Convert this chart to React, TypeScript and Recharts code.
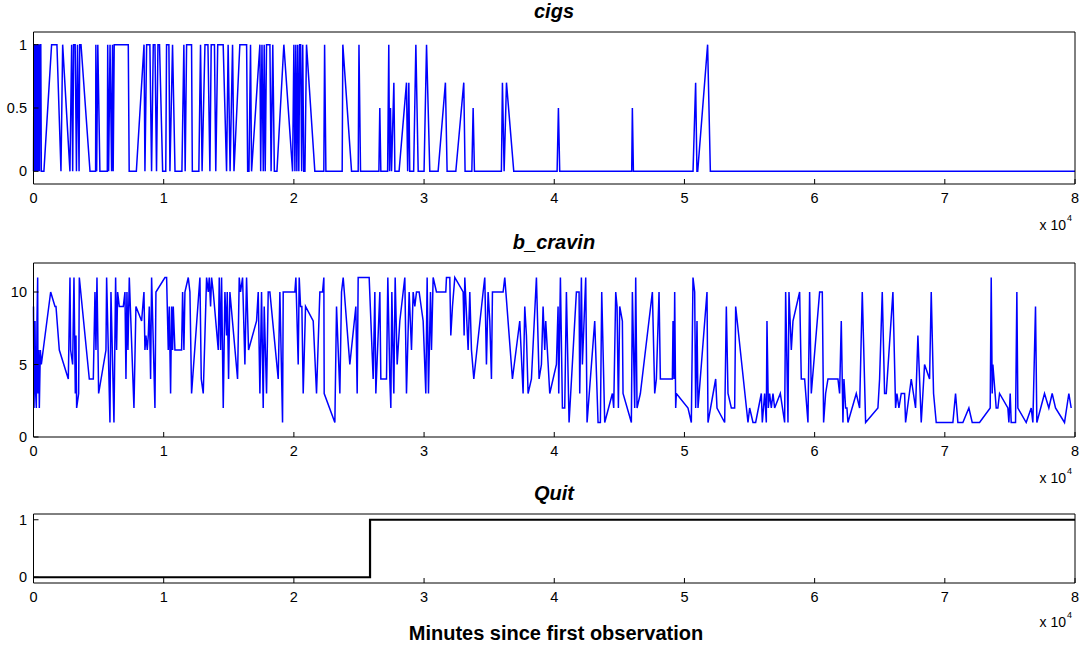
import React from "react";
import { LineChart, Line, XAxis, YAxis } from "recharts";

// minutes since first observation, axis shown in units of 10^4
const xTicks = [0, 10000, 20000, 30000, 40000, 50000, 60000, 70000, 80000];
const cigsTicks = [0, 0.5, 1];
const cravinTicks = [0, 5, 10];
const quitTicks = [0, 1];

// [minute, value]
const cigs: [number, number][] = [
  [0, 0], [40, 1], [80, 1], [110, 0], [150, 1], [190, 0], [230, 1], [270, 0], [310, 1], [340, 1],
  [370, 0], [420, 1], [460, 0], [500, 1], [560, 1], [600, 0], [800, 0], [1390, 1], [1800, 1], [2110, 0],
  [2240, 1], [2800, 0], [2930, 1], [3010, 0], [3080, 1], [3200, 1], [3300, 0], [3380, 1], [3500, 0], [3550, 1],
  [3650, 1], [4340, 0], [4770, 0], [4790, 1], [4850, 0], [4940, 1], [5100, 0], [5670, 0], [5700, 1], [5770, 0],
  [5880, 1], [6000, 0], [6070, 1], [6120, 0], [6200, 1], [7280, 1], [7350, 0], [7900, 0], [8490, 1], [8560, 0],
  [8690, 1], [8940, 1], [9070, 0], [9200, 1], [9330, 1], [9450, 0], [9560, 1], [9680, 1], [9920, 0], [10160, 0],
  [10220, 1], [10400, 1], [10480, 0], [10680, 1], [10870, 0], [11400, 0], [11550, 1], [11650, 0], [11760, 1], [12140, 1],
  [12200, 0], [12700, 0], [12830, 1], [12950, 0], [13170, 1], [13400, 1], [13550, 0], [13650, 1], [13900, 1], [14000, 0],
  [14150, 1], [14570, 1], [14830, 0], [14950, 1], [15100, 0], [15290, 1], [15400, 0], [15850, 1], [16370, 1], [16450, 0],
  [16550, 0], [16670, 1], [16750, 0], [17390, 1], [17450, 0], [17550, 1], [17650, 0], [17720, 1], [17800, 0], [17900, 1],
  [18160, 1], [18250, 0], [18380, 1], [18500, 0], [18700, 0], [19230, 1], [19900, 0], [20000, 1], [20080, 0], [20150, 1],
  [20230, 0], [20300, 1], [20380, 0], [20450, 1], [20520, 1], [20600, 0], [20680, 1], [20760, 0], [20850, 0], [20970, 1],
  [21610, 0], [22300, 0], [22360, 1], [22460, 0], [23710, 0], [23760, 1], [24430, 0], [24940, 0], [25000, 1], [25120, 0],
  [26530, 0], [26600, 0.5], [26680, 0], [27200, 0], [27290, 1], [27350, 0], [27420, 0.5], [27500, 0], [27680, 0.7], [27760, 0],
  [28080, 0], [28650, 0.7], [28740, 0], [28830, 0.7], [28900, 0], [29200, 0], [29370, 1], [29550, 0], [30000, 0], [30190, 1],
  [30440, 0], [31080, 0], [31640, 0.7], [31770, 0], [32440, 0], [33050, 0.7], [33150, 0], [33670, 0], [33770, 0.5], [33870, 0],
  [35940, 0], [36020, 0.7], [36150, 0], [36330, 0.7], [36890, 0], [40220, 0], [40320, 0.5], [40420, 0], [45950, 0], [46000, 0.5],
  [46080, 0], [50660, 0], [50860, 0.7], [50960, 0], [51020, 0], [51780, 1], [51990, 0], [80000, 0],
];

const bCravin: [number, number][] = [
  [0, 9], [40, 2], [115, 8], [166, 3], [218, 2], [269, 8], [320, 11], [345, 3], [397, 6], [448, 2],
  [525, 6], [601, 5], [1318, 10], [1651, 9], [1727, 9], [1983, 6], [2674, 4], [2802, 11], [2853, 6], [3007, 5],
  [3109, 11], [3212, 3], [3263, 7], [3314, 2], [3468, 3], [3519, 11], [4287, 4], [4594, 4], [4722, 10], [4798, 6],
  [4875, 11], [5003, 3], [5566, 6], [5617, 11], [5873, 1], [5950, 10], [6180, 1], [6308, 11], [6385, 6], [6462, 10],
  [6590, 9], [6897, 9], [7025, 10], [7102, 4], [7179, 10], [7255, 6], [7358, 11], [7716, 2], [7869, 9], [8304, 8],
  [8484, 10], [8560, 6], [8637, 7], [8739, 6], [8816, 7], [8893, 9], [8995, 4], [9072, 11], [9328, 2], [9405, 10],
  [10096, 11], [10224, 11], [10352, 6], [10429, 9], [10531, 3], [10608, 9], [10685, 6], [10736, 9], [10864, 6], [11376, 6],
  [11453, 10], [11555, 6], [11632, 10], [11888, 11], [12015, 10], [12143, 3], [12783, 11], [12885, 4], [13039, 3], [13295, 11],
  [13423, 10], [13500, 11], [13602, 9], [13679, 11], [13807, 10], [14191, 6], [14268, 11], [14370, 6], [14447, 11], [14575, 2],
  [14703, 10], [14830, 7], [14882, 10], [14984, 4], [15086, 10], [15675, 4], [15803, 11], [15905, 10], [16059, 11], [16238, 5],
  [16366, 11], [16519, 6], [17134, 8], [17262, 10], [17390, 3], [17517, 10], [17645, 2], [17722, 9], [17901, 3], [18029, 10],
  [18157, 10], [18797, 4], [18925, 10], [19130, 1], [19181, 10], [20077, 10], [20154, 11], [20333, 5], [20410, 11], [20512, 9],
  [20614, 9], [20717, 3], [20896, 9], [21485, 8], [21740, 3], [21996, 10], [22201, 10], [22303, 11], [22329, 3], [23148, 1],
  [23276, 9], [23532, 3], [23660, 10], [23788, 11], [24299, 5], [24760, 9], [24862, 3], [24939, 11], [25783, 11], [26091, 4],
  [26219, 10], [26296, 3], [26603, 10], [26680, 4], [27115, 4], [27217, 11], [27371, 4], [27448, 2], [27525, 10], [27678, 3],
  [27780, 11], [27934, 5], [28138, 8], [28394, 10], [28522, 11], [28650, 3], [28855, 10], [29034, 6], [29162, 10], [29290, 9],
  [29418, 10], [29622, 10], [29930, 8], [30134, 3], [30237, 11], [30339, 3], [30493, 10], [30570, 6], [30698, 11], [30954, 10],
  [31670, 10], [31721, 11], [31977, 11], [32054, 7], [32182, 9], [32361, 11], [33001, 10], [33078, 7], [33129, 11], [33385, 6],
  [33513, 10], [33641, 6], [33820, 4], [34536, 10], [34664, 11], [34792, 5], [34920, 10], [35048, 8], [35176, 4], [35253, 10],
  [36072, 10], [36200, 11], [36788, 4], [37351, 8], [37607, 3], [37735, 9], [37863, 7], [37991, 3], [38247, 4], [38631, 11],
  [38836, 4], [39015, 5], [39143, 9], [39271, 6], [39347, 8], [39655, 3], [40166, 5], [40294, 9], [40345, 3], [40473, 11],
  [40627, 2], [40806, 2], [40934, 10], [41139, 1], [41701, 10], [41906, 10], [41958, 3], [42085, 11], [42162, 5], [42418, 11],
  [42521, 1], [43109, 8], [43365, 1], [43544, 1], [43647, 10], [43877, 1], [44466, 3], [44568, 2], [44722, 10], [44824, 9],
  [44926, 2], [45029, 9], [45233, 8], [45284, 3], [45924, 1], [46001, 10], [46180, 2], [46257, 11], [46360, 2], [46615, 3],
  [47537, 10], [47716, 3], [47844, 4], [48049, 10], [48151, 4], [49073, 4], [49124, 8], [49200, 4], [49251, 10], [49328, 2],
  [49379, 3], [50274, 2], [50530, 1], [50658, 11], [50786, 10], [50863, 2], [50965, 8], [51042, 2], [51733, 10], [51810, 1],
  [52399, 4], [52501, 2], [53090, 1], [53218, 9], [53346, 3], [53602, 2], [53858, 2], [53935, 9], [54881, 1], [55009, 2],
  [55265, 1], [55470, 1], [55905, 3], [55982, 1], [56161, 3], [56289, 1], [56340, 8], [56443, 2], [56545, 3], [56673, 2],
  [56801, 3], [56929, 2], [57364, 3], [57697, 1], [57774, 10], [57953, 1], [58029, 10], [58209, 6], [58337, 8], [58848, 10],
  [58976, 4], [59232, 4], [59488, 1], [59616, 10], [59744, 3], [60384, 10], [60589, 10], [60691, 1], [60845, 3], [61024, 4],
  [61792, 4], [61919, 3], [62047, 8], [62175, 1], [62252, 4], [62380, 2], [62482, 2], [62559, 1], [63199, 3], [63455, 2],
  [63660, 10], [63916, 1], [64862, 2], [64990, 4], [65195, 10], [65374, 3], [65502, 3], [66014, 10], [66219, 2], [66321, 3],
  [66475, 2], [66654, 3], [66910, 3], [66987, 1], [67422, 4], [67754, 2], [67933, 7], [68189, 1], [68445, 5], [68829, 4],
  [68957, 10], [69136, 3], [69341, 1], [70620, 1], [70825, 3], [71004, 1], [71388, 1], [71849, 2], [72105, 1], [72668, 1],
  [73487, 2], [73564, 11], [73641, 3], [73692, 5], [73948, 2], [74076, 2], [74204, 3], [74843, 2], [74920, 1], [75022, 3],
  [75099, 1], [75432, 1], [75534, 10], [75611, 2], [76251, 1], [76635, 2], [76763, 1], [76967, 9], [77070, 1], [77658, 3],
  [77991, 2], [78247, 3], [78503, 2], [79194, 1], [79527, 3], [79706, 2],
];

const quit: [number, number][] = [
  [0, 0], [25850, 1], [80000, 1],
];

const FONT = '"Liberation Sans", Arial, Helvetica, sans-serif';
const tickStyle = { fill: "#000", fontSize: 14.5, fontFamily: FONT };
const noLabel = () => "";

interface PanelProps {
  top: number;
  height: number;
  marginTop: number;
  marginBottom: number;
  series: [number, number][];
  yDomain: [number, number];
  yTicks: number[];
  color: string;
  width: number;
  step?: boolean;
}

const Panel = ({ top, height, marginTop, marginBottom, series, yDomain, yTicks, color, width, step }: PanelProps) => {
  const rows = series.map(([x, v]) => ({ x, v }));
  return (
    <div style={{ position: "absolute", left: 0, top }}>
      <LineChart width={1082} height={height} margin={{ top: marginTop, right: 6, bottom: marginBottom, left: 0 }}>
        <XAxis
          xAxisId="b"
          dataKey="x"
          type="number"
          domain={[0, 80000]}
          ticks={xTicks}
          interval={0}
          tickFormatter={(v: number) => String(v / 10000)}
          height={25}
          tickSize={-5}
          tickMargin={14}
          stroke="#000"
          tick={tickStyle}
        />
        {/* box top with inward ticks */}
        <XAxis
          xAxisId="t"
          orientation="top"
          dataKey="x"
          type="number"
          domain={[0, 80000]}
          ticks={xTicks}
          interval={0}
          height={1}
          tickSize={-5}
          tickFormatter={noLabel}
          stroke="#000"
        />
        <YAxis
          yAxisId="l"
          type="number"
          domain={yDomain}
          ticks={yTicks}
          interval={0}
          width={33.5}
          tickSize={-5}
          tickMargin={11.5}
          stroke="#000"
          tick={tickStyle}
        />
        {/* box right with inward ticks */}
        <YAxis
          yAxisId="r"
          orientation="right"
          type="number"
          domain={yDomain}
          ticks={yTicks}
          interval={0}
          width={1}
          tickSize={-5}
          tickFormatter={noLabel}
          stroke="#000"
        />
        <Line
          xAxisId="b"
          yAxisId="l"
          data={rows}
          dataKey="v"
          type={step ? "stepAfter" : "linear"}
          stroke={color}
          strokeWidth={width}
          dot={false}
          isAnimationActive={false}
        />
      </LineChart>
    </div>
  );
};

const Exponent = ({ y }: { y: number }) => (
  <g fontFamily={FONT} fill="#000">
    <text x={1066} y={y} textAnchor="end" fontSize={14}>x 10</text>
    <text x={1067} y={y - 9} fontSize={9}>4</text>
  </g>
);

export default function App() {
  return (
    <div style={{ position: "absolute", left: 0, top: 0, width: 1082, height: 647, background: "#fff" }}>
      <Panel top={0} height={215} marginTop={31} marginBottom={6} series={cigs} yDomain={[-0.1, 1.1]} yTicks={cigsTicks} color="#0000ff" width={1.5} />
      <Panel top={240} height={230} marginTop={22} marginBottom={8} series={bCravin} yDomain={[0, 12]} yTicks={cravinTicks} color="#0000ff" width={1.5} />
      <Panel top={500} height={120} marginTop={13} marginBottom={12} series={quit} yDomain={[-0.1, 1.1]} yTicks={quitTicks} color="#000" width={2.2} step />
      <svg width={1082} height={647} style={{ position: "absolute", left: 0, top: 0, pointerEvents: "none" }}>
        <g fontFamily={FONT} fontWeight="bold" fontStyle="italic" fontSize={20} textAnchor="middle" fill="#000">
          <text x={554} y={18}>cigs</text>
          <text x={554} y={249}>b_cravin</text>
          <text x={554} y={500}>Quit</text>
        </g>
        <Exponent y={230} />
        <Exponent y={483} />
        <Exponent y={627} />
        <text x={556} y={640} textAnchor="middle" fontFamily={FONT} fontWeight="bold" fontSize={20} fill="#000">
          Minutes since first observation
        </text>
      </svg>
    </div>
  );
}
